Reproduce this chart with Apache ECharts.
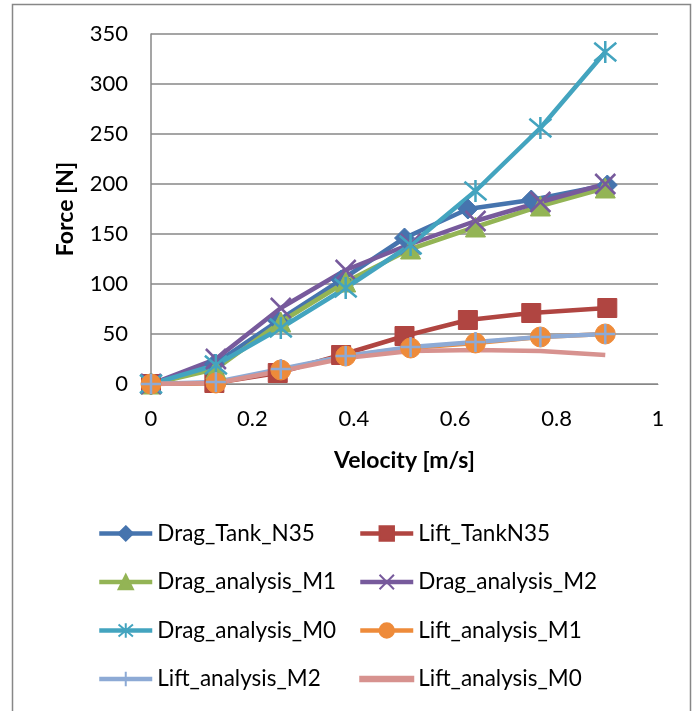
<!DOCTYPE html>
<html>
<head>
<meta charset="utf-8">
<script src="https://cdn.jsdelivr.net/npm/echarts@6/dist/echarts.min.js"></script>
<style>
  html, body { margin: 0; padding: 0; background: #ffffff; }
  #chart { width: 698px; height: 711px; }
</style>
</head>
<body>
<div id="chart"></div>
<script>
// Velocities [m/s] for the tank measurements and for the analysis models
const velocityTank = [0, 0.125, 0.25, 0.375, 0.5, 0.625, 0.75, 0.9];
const velocityAnalysis = [0, 0.128, 0.256, 0.384, 0.512, 0.64, 0.768, 0.896];

// Forces [N]
const dragTankN35 = [0, 20, 63, 104, 146, 175, 184, 199];
const liftTankN35 = [0, 1, 11, 29, 48, 64, 71, 76];
const dragAnalysisM1 = [0, 15, 62, 102, 135, 157, 178, 196];
const dragAnalysisM2 = [0, 25, 76, 114, 140, 163, 182, 200];
const dragAnalysisM0 = [0, 19, 56, 96, 139, 193, 256, 332];
const liftAnalysisM1 = [0, 1, 14, 28, 36, 41, 47, 50];
const liftAnalysisM2 = [0, 2, 15, 28, 37, 42, 47, 50];
const liftAnalysisM0 = [0, 1, 13, 26, 33, 34, 33, 29];

// Axis ticks
const forceTicks = { min: 0, max: 350, interval: 50 };
const velocityTicks = { min: 0, max: 1, interval: 0.2 };

const FONT = 'Lato, "Liberation Sans", sans-serif';

// Stroke-only marker shapes
const SYM_X = 'path://M0 0 L10 10 M10 0 L0 10';
const SYM_STAR = 'path://M0 0 L10 10 M10 0 L0 10 M5 -1 L5 11';
const SYM_PLUS = 'path://M5 0 L5 10 M0 5 L10 5';
// Plain line swatch for the marker-less series
const ICON_PLAIN_LINE = 'path://M0 0 L100 0 L100 8.5 L0 8.5 Z';

function pairs(xs, ys) {
  return xs.map((x, i) => [x, ys[i]]);
}

function lineSeries(name, xs, ys, color, symbol, size, stroked) {
  return {
    name: name,
    type: 'line',
    data: pairs(xs, ys),
    symbol: symbol,
    symbolSize: size,
    showSymbol: symbol !== 'none',
    lineStyle: { color: color, width: 4.5 },
    itemStyle: stroked
      ? { color: color, borderColor: color, borderWidth: 2.5 }
      : { color: color, borderColor: color, borderWidth: 1 },
    emphasis: { disabled: true }
  };
}

const series = [
  lineSeries('Drag_Tank_N35', velocityTank, dragTankN35, '#4674AE', 'diamond', 20, false),
  lineSeries('Lift_TankN35', velocityTank, liftTankN35, '#B04541', 'rect', 19, false),
  lineSeries('Drag_analysis_M1', velocityAnalysis, dragAnalysisM1, '#93B455', 'triangle', 20, false),
  lineSeries('Drag_analysis_M2', velocityAnalysis, dragAnalysisM2, '#775A9C', SYM_X, 20, true),
  lineSeries('Drag_analysis_M0', velocityAnalysis, dragAnalysisM0, '#43A4BF', SYM_STAR, 22, true),
  lineSeries('Lift_analysis_M1', velocityAnalysis, liftAnalysisM1, '#EE8B3A', 'circle', 20, false),
  lineSeries('Lift_analysis_M2', velocityAnalysis, liftAnalysisM2, '#8DAAD5', SYM_PLUS, 20, true),
  lineSeries('Lift_analysis_M0', velocityAnalysis, liftAnalysisM0, '#D7928F', 'none', 0, false)
];

const legendText = { fontFamily: FONT, fontSize: 22.5, color: '#000000' };

function legendColumn(left, names) {
  return {
    orient: 'vertical',
    left: left,
    top: 522,
    padding: 0,
    itemWidth: 53,
    itemHeight: 18,
    itemGap: 25.5,
    textStyle: legendText,
    lineStyle: { width: 4.5 },
    selectedMode: false,
    data: names
  };
}

const chart = echarts.init(document.getElementById('chart'), null, { renderer: 'canvas' });
chart.setOption({
  animation: false,
  backgroundColor: '#ffffff',
  graphic: [{
    type: 'rect',
    shape: { x: 12.5, y: 4.5, width: 678, height: 730 },
    style: { fill: 'none', stroke: '#878787', lineWidth: 1.5 },
    silent: true
  }],
  grid: { left: 151, right: 40, top: 34, bottom: 327, containLabel: false },
  xAxis: {
    type: 'value',
    min: velocityTicks.min,
    max: velocityTicks.max,
    interval: velocityTicks.interval,
    name: 'Velocity [m/s]',
    nameLocation: 'middle',
    nameGap: 65,
    nameTextStyle: { fontFamily: FONT, fontSize: 23, fontWeight: 'bold', color: '#000000' },
    axisLine: { show: true, lineStyle: { color: '#878787', width: 1 } },
    axisTick: { show: false },
    splitLine: { show: false },
    axisLabel: { fontFamily: FONT, fontSize: 22, color: '#000000', margin: 24 }
  },
  yAxis: {
    type: 'value',
    min: forceTicks.min,
    max: forceTicks.max,
    interval: forceTicks.interval,
    name: 'Force [N]',
    nameLocation: 'middle',
    nameGap: 74,
    nameRotate: 90,
    nameTextStyle: { fontFamily: FONT, fontSize: 23, fontWeight: 'bold', color: '#000000' },
    axisLine: { show: true, lineStyle: { color: '#878787', width: 1.5 } },
    axisTick: { show: false },
    splitLine: { show: true, lineStyle: { color: '#878787', width: 1.5 } },
    axisLabel: { fontFamily: FONT, fontSize: 22, color: '#000000', margin: 23 }
  },
  legend: [
    legendColumn(97, ['Drag_Tank_N35', 'Drag_analysis_M1', 'Drag_analysis_M0', 'Lift_analysis_M2']),
    legendColumn(358, ['Lift_TankN35', 'Drag_analysis_M2', 'Lift_analysis_M1',
      { name: 'Lift_analysis_M0', icon: ICON_PLAIN_LINE }])
  ],
  series: series
});
</script>
</body>
</html>
